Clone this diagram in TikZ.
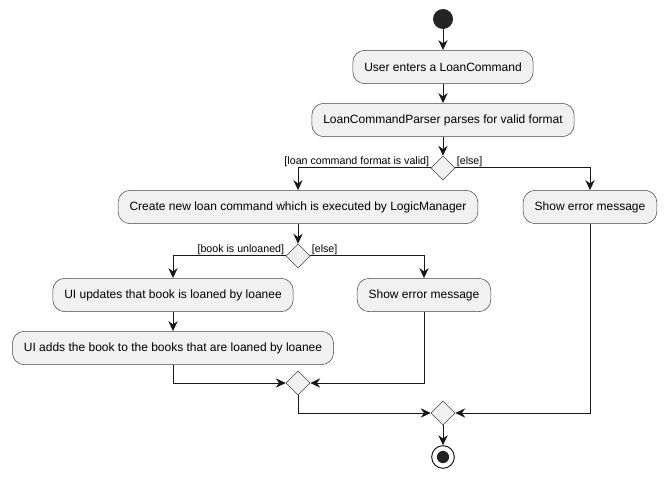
\documentclass[tikz,border=0pt]{standalone}
\usepackage{fontspec}
\setmainfont{Liberation Sans}
\usetikzlibrary{shapes.geometric,arrows.meta}
\definecolor{boxfill}{HTML}{F1F1F1}
\definecolor{lineclr}{HTML}{181818}
\begin{document}
\begin{tikzpicture}[x=0.75pt,y=-0.75pt,
  act/.style={draw=lineclr!80, line width=0.4pt, fill=boxfill, rounded corners=9pt,
    minimum height=25pt, inner xsep=8.6pt, font=\fontsize{9}{11}\selectfont},
  dia/.style={draw=lineclr!80, line width=0.4pt, fill=boxfill, diamond, inner sep=0pt,
    minimum width=18pt, minimum height=18pt},
  arr/.style={draw=lineclr, line width=0.75pt, -{Stealth[length=7.5pt,width=7pt,inset=2.5pt]}},
  lbl/.style={font=\fontsize{8}{9}\selectfont, inner sep=1pt}
]
\useasboundingbox[fill=white] (0,0) rectangle (667,477);
\node[circle, fill=lineclr!95, minimum size=15pt, inner sep=0pt] (start) at (443,19) {};
\node[act] (b1) at (443,67) {User enters a LoanCommand};
\node[act] (b2) at (443,120) {LoanCommandParser parses for valid format};
\node[dia] (d1) at (443,168) {};
\node[act] (b3) at (298,207) {Create new loan command which is executed by LogicManager};
\node[act] (e1) at (590,207) {Show error message};
\node[dia] (d2) at (298,256) {};
\node[act] (b4) at (173,295) {UI updates that book is loaned by loanee};
\node[act] (b5) at (424,295) {Show error message};
\node[act] (b6) at (173,348) {UI adds the book to the books that are loaned by loanee};
\node[dia] (d3) at (298,383) {};
\node[dia] (d4) at (443,413) {};
\node[circle, draw=lineclr, line width=0.75pt, fill=white, minimum size=17pt, inner sep=0pt] (stopnode) at (443,457) {};
\fill[lineclr!95] (stopnode.center) circle[radius=4.6pt];

\draw[arr] (start) -- (b1);
\draw[arr] (b1) -- (b2);
\draw[arr] (b2) -- (d1);
\draw[arr] (d1.west) -| (b3.north);
\draw[arr] (d1.east) -| (e1.north);
\node[lbl, anchor=south east] (l1) at (d1.west) {[loan command format is valid]};
\node[lbl, anchor=south west] (l2) at (d1.east) {[else]};
\draw[arr] (b3) -- (d2);
\draw[arr] (d2.west) -| (b4.north);
\draw[arr] (d2.east) -| (b5.north);
\node[lbl, anchor=south east] (l3) at (d2.west) {[book is unloaned]};
\node[lbl, anchor=south west] (l4) at (d2.east) {[else]};
\draw[arr] (b4) -- (b6);
\draw[arr] (b6.south) |- (d3.west);
\draw[arr] (b5.south) |- (d3.east);
\draw[arr] (d3.south) |- (d4.west);
\draw[arr] (e1.south) |- (d4.east);
\draw[arr] (d4) -- (stopnode);
\end{tikzpicture}
\end{document}
